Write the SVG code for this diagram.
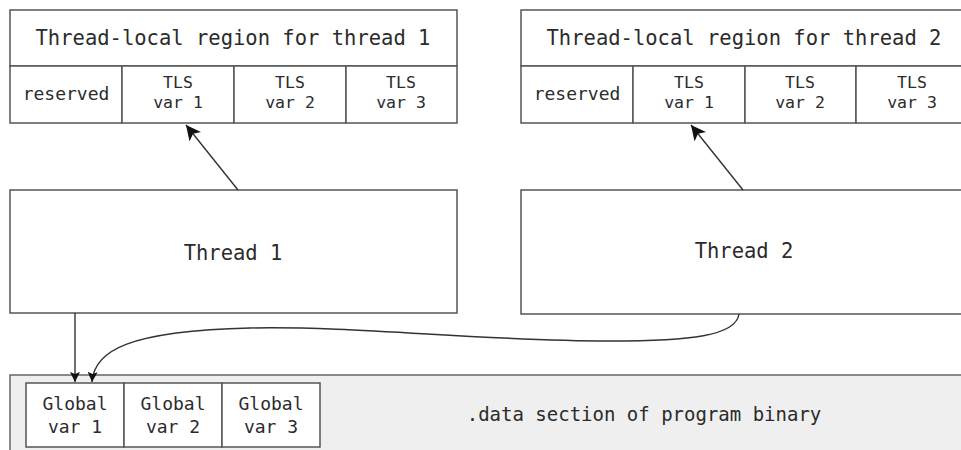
<svg xmlns="http://www.w3.org/2000/svg" width="961" height="450" viewBox="0 0 961 450">
<defs>
<style>
.box{fill:#fff;stroke:#555;stroke-width:1.5}
.sec{fill:#efefef;stroke:#666;stroke-width:1.5}
.t{font-family:"DejaVu Sans Mono","Liberation Mono",monospace;fill:#2b2b2b;text-anchor:middle}
.big{font-size:20.5px}
.sm{font-size:18px}
.tls{font-size:16.5px}
.conn{fill:none;stroke:#333;stroke-width:1.4}
</style>
<marker id="ah" viewBox="0 0 10 10" refX="10" refY="5" markerWidth="10" markerHeight="10" markerUnits="userSpaceOnUse" orient="auto"><path d="M0,0 L10,5 L0,10 L2,5 z" fill="#111"/></marker>
<marker id="ah2" viewBox="0 0 12 12" refX="12" refY="6" markerWidth="15" markerHeight="15" markerUnits="userSpaceOnUse" orient="auto"><path d="M0,0 L12,6 L0,12 L3,6 z" fill="#111"/></marker>
</defs>
<rect width="961" height="450" fill="#fff"/>

<g id="data-section">
<rect class="sec" x="10" y="375" width="960" height="90"/>
<text class="t" style="font-size:19px" x="644" y="421">.data section of program binary</text>
</g>
<g id="global-vars">
<rect class="box" x="26" y="383" width="98" height="64"/>
<rect class="box" x="124" y="383" width="98" height="64"/>
<rect class="box" x="222" y="383" width="98" height="64"/>
<text class="t sm" x="75" y="410">Global</text><text class="t sm" x="75" y="433">var 1</text>
<text class="t sm" x="173" y="410">Global</text><text class="t sm" x="173" y="433">var 2</text>
<text class="t sm" x="271" y="410">Global</text><text class="t sm" x="271" y="433">var 3</text>
</g>

<g id="tls-region-1">
<rect class="box" x="10" y="10" width="447" height="56"/>
<text class="t big" x="233" y="45">Thread-local region for thread 1</text>
<rect class="box" x="10" y="66" width="112" height="57"/>
<rect class="box" x="122" y="66" width="112" height="57"/>
<rect class="box" x="234" y="66" width="112" height="57"/>
<rect class="box" x="346" y="66" width="111" height="57"/>
<text class="t sm" x="66" y="100">reserved</text>
<text class="t tls" x="178" y="88">TLS</text><text class="t tls" x="178" y="107.5">var 1</text>
<text class="t tls" x="290" y="88">TLS</text><text class="t tls" x="290" y="107.5">var 2</text>
<text class="t tls" x="401" y="88">TLS</text><text class="t tls" x="401" y="107.5">var 3</text>
</g>

<g id="tls-region-2">
<rect class="box" x="521" y="10" width="447" height="56"/>
<text class="t big" x="744" y="45">Thread-local region for thread 2</text>
<rect class="box" x="521" y="66" width="112" height="57"/>
<rect class="box" x="633" y="66" width="112" height="57"/>
<rect class="box" x="745" y="66" width="111" height="57"/>
<rect class="box" x="856" y="66" width="112" height="57"/>
<text class="t sm" x="577" y="100">reserved</text>
<text class="t tls" x="689" y="88">TLS</text><text class="t tls" x="689" y="107.5">var 1</text>
<text class="t tls" x="800" y="88">TLS</text><text class="t tls" x="800" y="107.5">var 2</text>
<text class="t tls" x="912" y="88">TLS</text><text class="t tls" x="912" y="107.5">var 3</text>
</g>

<g id="thread-1">
<rect class="box" x="10" y="190" width="447" height="123"/>
<text class="t big" x="233" y="260">Thread 1</text>
</g>
<g id="thread-2">
<rect class="box" x="521" y="190" width="447" height="124"/>
<text class="t big" x="744" y="258">Thread 2</text>
</g>

<g id="connectors">
<path class="conn" d="M238,190 L186,125" marker-end="url(#ah2)"/>
<path class="conn" d="M743,190 L691,125" marker-end="url(#ah2)"/>
<path class="conn" d="M75,313 L75,382" marker-end="url(#ah)"/>
<path class="conn" d="M739,314 C736,336 690,341 610,341 C480,341 360,326 250,328 C130,331 94,350 92,382" marker-end="url(#ah)"/>
</g>
</svg>
